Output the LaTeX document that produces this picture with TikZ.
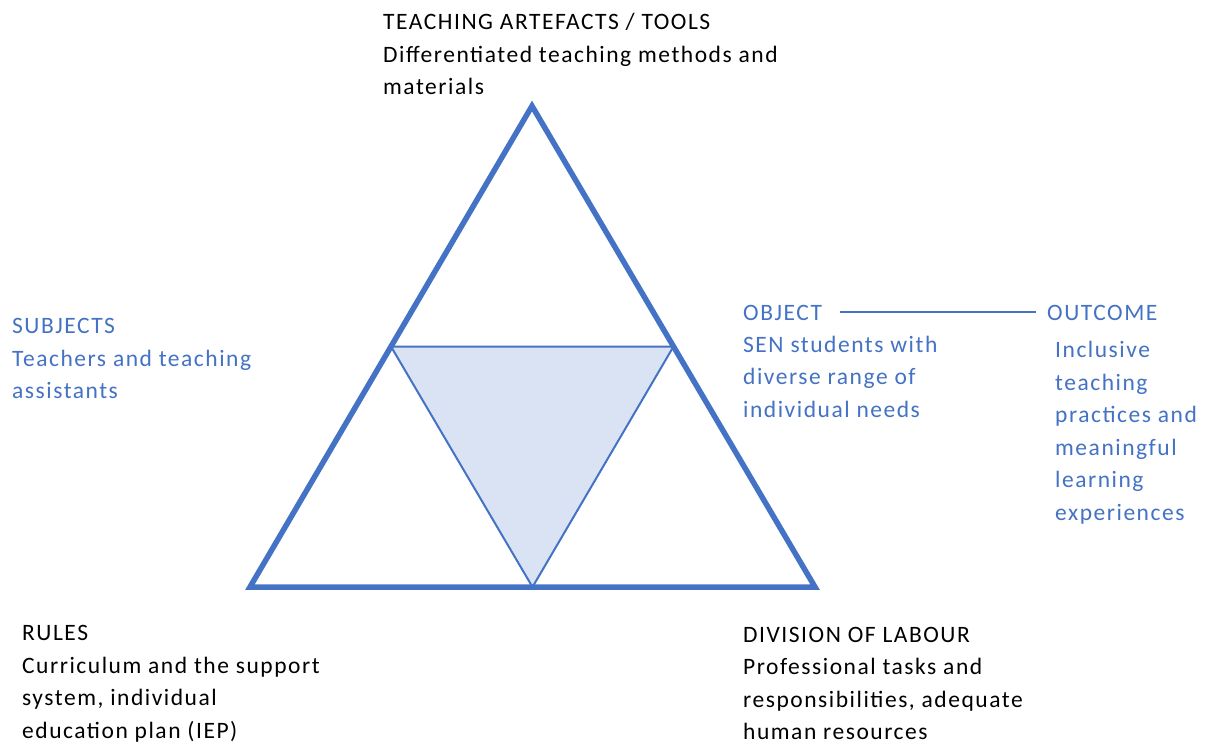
\documentclass[tikz,border=0pt]{standalone}
\usepackage{fontspec}
\setmainfont{Carlito}[LetterSpace=6.5]
\usetikzlibrary{calc}
\definecolor{accent}{HTML}{4472C4}
\definecolor{lightfill}{HTML}{DAE3F3}
\begin{document}
\begin{tikzpicture}[x=1pt,y=-1pt,
  txt/.style={anchor=base west,inner sep=0pt,align=left,font=\fontsize{23.5}{32.5}\selectfont},
  bluetxt/.style={txt,text=accent},
  outer/.style={draw=accent,line width=5.5pt,line join=miter},
  inner/.style={draw=accent,line width=2pt,fill=lightfill,line join=miter},
  link/.style={draw=accent,line width=1.2pt}]
\useasboundingbox[fill=white] (0,0) rectangle (1210,745);
% triangle corners
\coordinate (A) at (532,106);
\coordinate (L) at (250,587);
\coordinate (R) at (815,587);
\coordinate (mL) at ($(A)!0.5!(L)$);
\coordinate (mR) at ($(A)!0.5!(R)$);
\coordinate (mB) at ($(L)!0.5!(R)$);
\draw[inner] (mL) -- (mR) -- (mB) -- cycle;
\draw[outer] (A) -- (L) -- (R) -- cycle;
% texts (anchored at the baseline of their last line)
\node[txt] (tools) at (383,94.5) {TEACHING ARTEFACTS / TOOLS\\Differentiated teaching methods and\\materials};
\node[bluetxt] (subj) at (12,398.5) {SUBJECTS\\Teachers and teaching\\assistants};
\node[bluetxt] (objt) at (743,320) {OBJECT};
\node[bluetxt] (objb) at (743,417) {SEN students with\\diverse range of\\individual needs};
\node[bluetxt] (outt) at (1047,320) {OUTCOME};
\node[bluetxt] (outb) at (1055,520) {Inclusive\\teaching\\practices and\\meaningful\\learning\\experiences};
\node[txt] (rules) at (22,738) {RULES\\Curriculum and the support\\system, individual\\education plan (IEP)};
\node[txt] (div) at (743,739.5) {DIVISION OF LABOUR\\Professional tasks and\\responsibilities, adequate\\human resources};
\draw[link] ([xshift=18pt,yshift=8pt]objt.base east) -- ([xshift=-11pt,yshift=8pt]outt.base west);
\end{tikzpicture}
\end{document}
